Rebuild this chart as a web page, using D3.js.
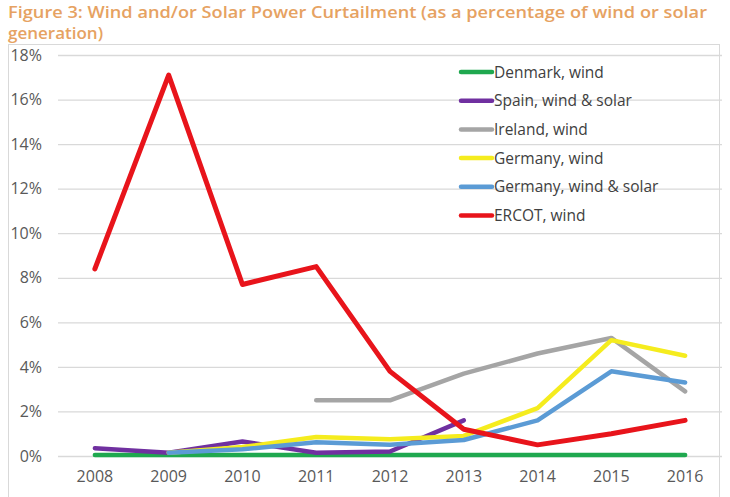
<!DOCTYPE html>
<html><head><meta charset="utf-8">
<script src="https://cdn.jsdelivr.net/npm/d3@7"></script>
<style>body{margin:0;background:#fff;font-family:"Open Sans",sans-serif}</style>
</head><body><svg id="c" width="730" height="497"></svg>
<script>
const years = [2008,2009,2010,2011,2012,2013,2014,2015,2016];
const yTicks = [0,2,4,6,8,10,12,14,16,18];
const seriesNames = ["Denmark, wind","Spain, wind & solar","Ireland, wind","Germany, wind","Germany, wind & solar","ERCOT, wind"];
const seriesColors = ["#1FA84F","#7030A0","#A5A5A5","#F5EC1E","#5B9BD5","#E8141B"];
const denmark = [0.05,0.05,0.05,0.05,0.05,0.05,0.05,0.05,0.05];
const spain = [0.35,0.15,0.65,0.15,0.2,1.6,null,null,null];
const ireland = [null,null,null,2.5,2.5,3.7,4.6,5.3,2.9];
const germanyWind = [null,0.15,0.4,0.85,0.75,0.9,2.15,5.2,4.5];
const germanyWindSolar = [null,0.15,0.3,0.62,0.5,0.72,1.6,3.8,3.3];
const ercot = [8.4,17.1,7.7,8.5,3.8,1.2,0.5,1.0,1.6];
const seriesValues = [denmark,spain,ireland,germanyWind,germanyWindSolar,ercot];

const svg = d3.select("#c");
svg.append("rect").attr("x",8.5).attr("y",44.5).attr("width",711).attr("height",460)
  .attr("fill","#fff").attr("stroke","#D9D9D9");
const titleLines = ["Figure 3: Wind and/or Solar Power Curtailment (as a percentage of wind or solar","generation)"];
const tt = svg.append("text").attr("fill","#E6A262")
  .style("font-size","17px").style("font-weight","600").style("font-family","'Open Sans', sans-serif");
tt.append("tspan").attr("x",8).attr("y",18).attr("textLength",699).attr("lengthAdjust","spacingAndGlyphs").text(titleLines[0]);
tt.append("tspan").attr("x",8).attr("y",39).text(titleLines[1]);

const x = d3.scaleBand().domain(years).range([58,722]);
const y = d3.scaleLinear().domain([0,18]).range([456,55]);

const gy = svg.append("g").attr("transform","translate(58,0)")
  .call(d3.axisLeft(y).tickValues(yTicks).tickSize(-664).tickFormat(d=>d+"%").tickPadding(16));
gy.select(".domain").remove();
gy.selectAll("line").attr("stroke","#D9D9D9").attr("stroke-width",1.3);
gy.selectAll("text").attr("fill","#595959").style("font-size","16px").style("font-family","'Open Sans', sans-serif");

const gx = svg.append("g").attr("transform","translate(0,456)")
  .call(d3.axisBottom(x).tickSize(0).tickPadding(15));
gx.select(".domain").remove();
gx.selectAll("text").attr("fill","#595959").style("font-size","16px").style("font-family","'Open Sans', sans-serif");

const line = d3.line().defined(d=>d!=null).x((d,i)=>x(years[i])+x.bandwidth()/2).y(d=>y(d));
seriesValues.forEach((vals,k)=>{
  svg.append("path").attr("d",line(vals)).attr("fill","none")
    .attr("stroke",seriesColors[k]).attr("stroke-width",k===5?5:4.5)
    .attr("stroke-linejoin","round").attr("stroke-linecap","round");
});

const lg = svg.append("g");
seriesNames.forEach((n,k)=>{
  const yy = 72 + k*28.7;
  lg.append("line").attr("x1",461).attr("x2",492).attr("y1",yy).attr("y2",yy)
    .attr("stroke",seriesColors[k]).attr("stroke-width",4.5).attr("stroke-linecap","round");
  lg.append("text").attr("x",494).attr("y",yy+5.5).text(n).attr("fill","#404040")
    .style("font-size","15.5px").style("font-family","'Open Sans', sans-serif");
});
</script></body></html>
